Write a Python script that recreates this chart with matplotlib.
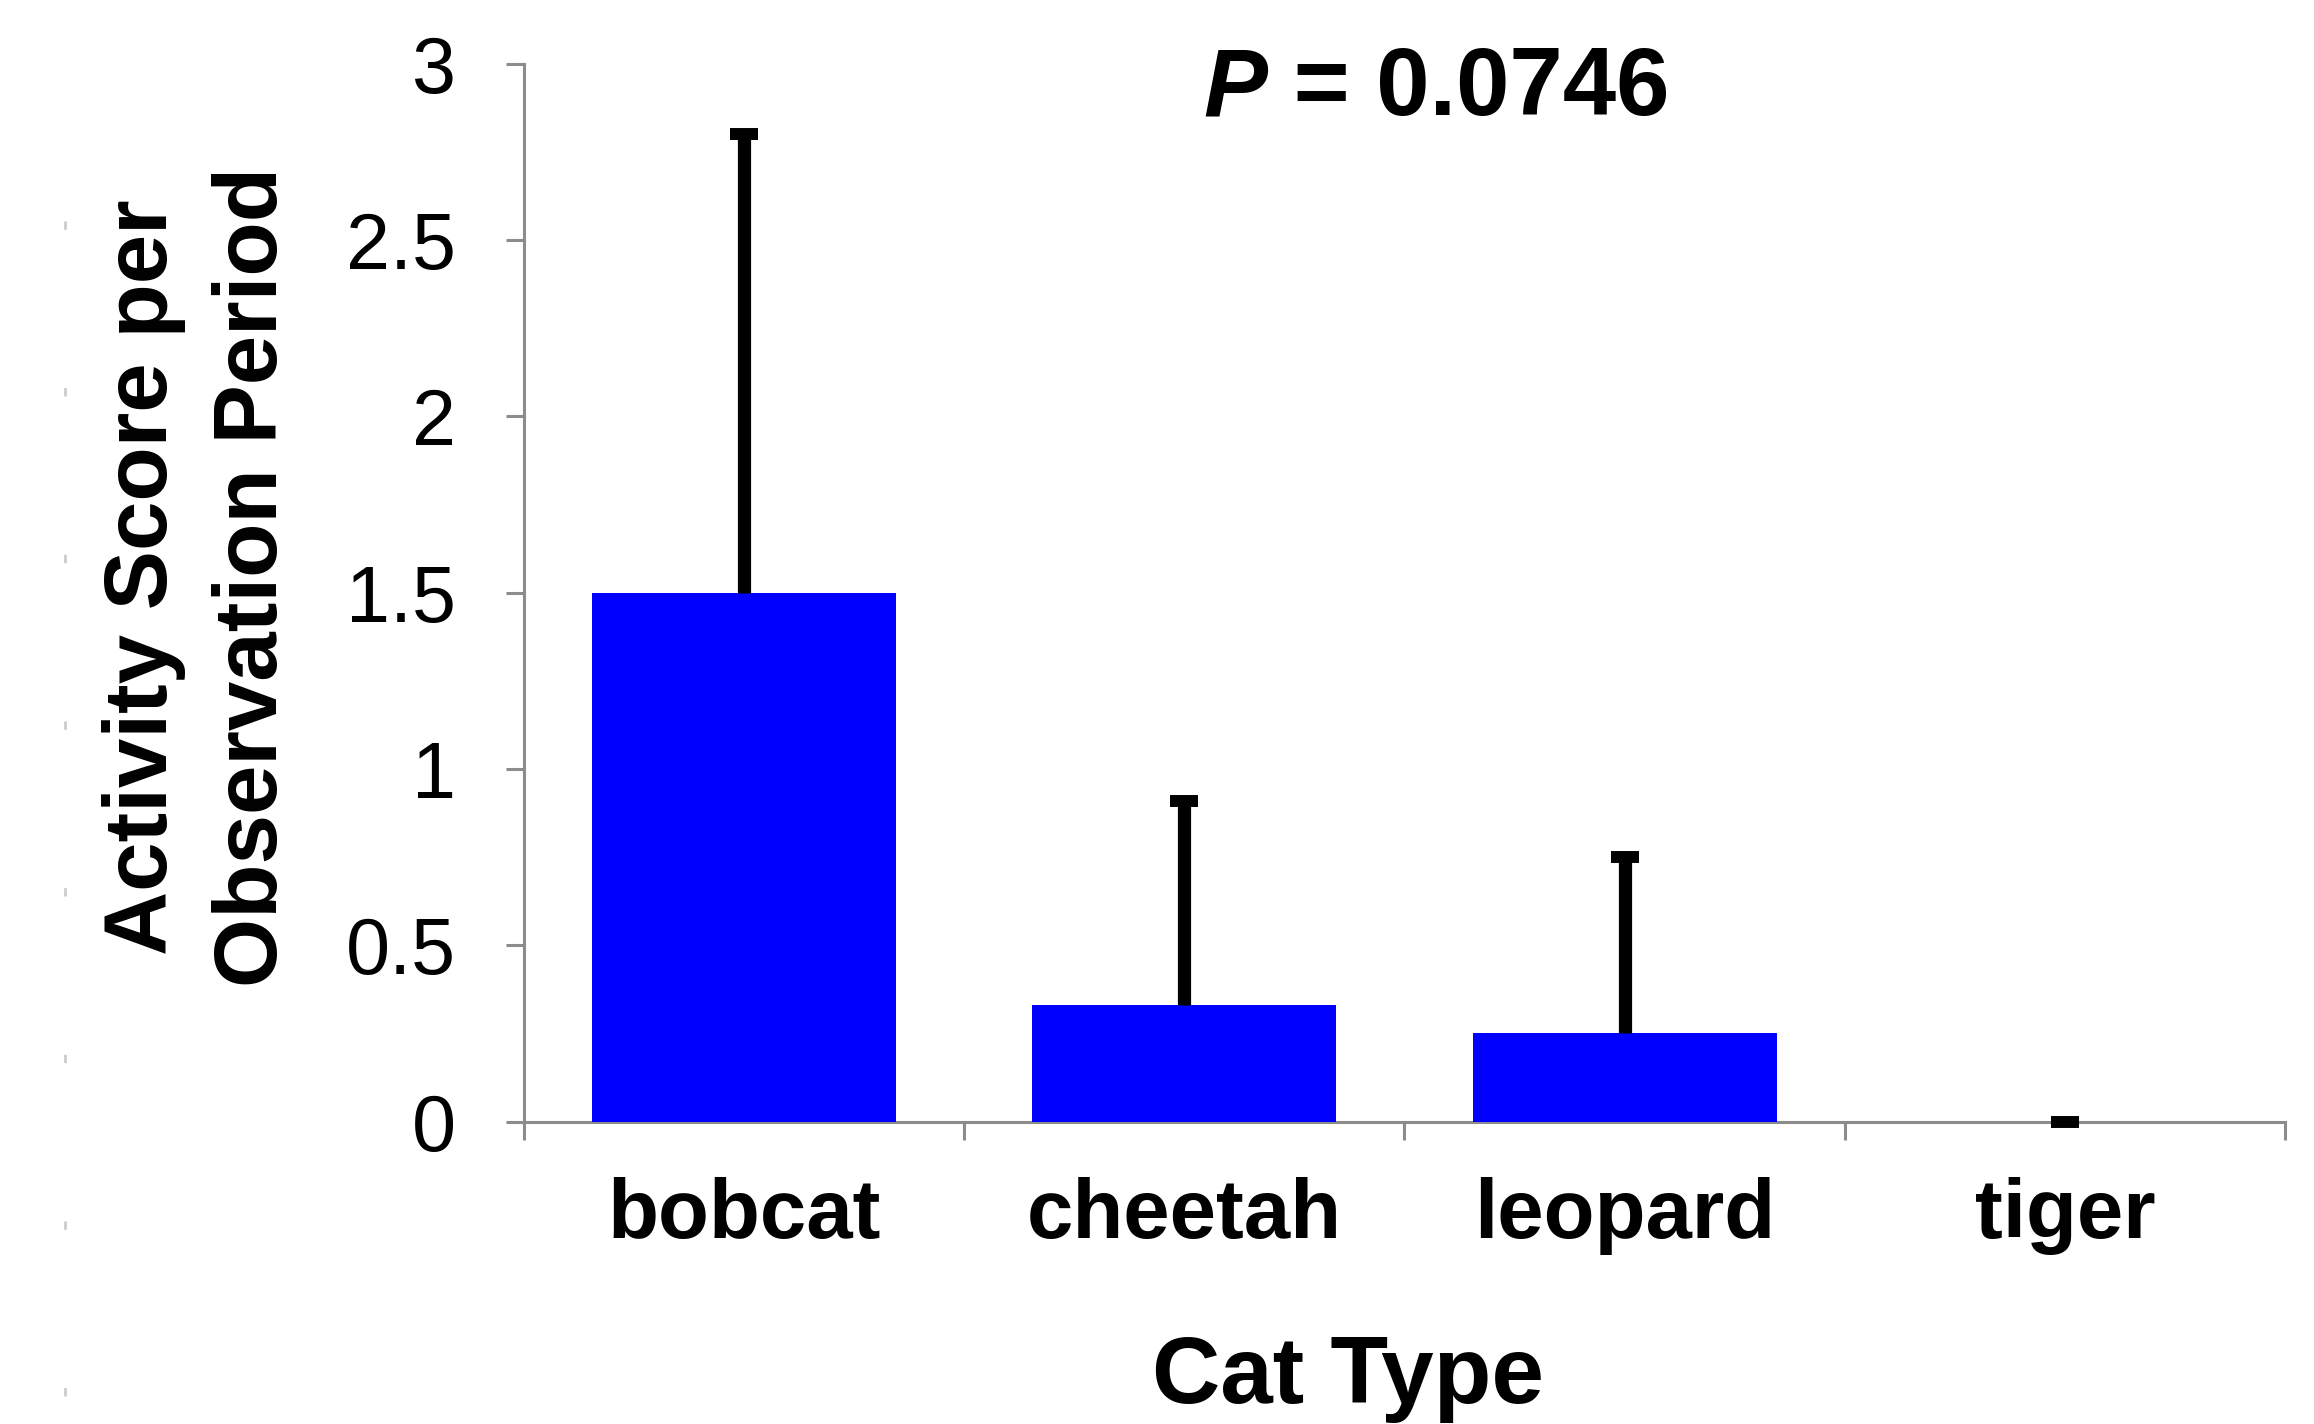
# bar chart of cat activity scores with upper error bars

import matplotlib.pyplot as plt
import numpy as np
from matplotlib.lines import Line2D

plt.rcParams['font.family'] = ['Liberation Sans', 'DejaVu Sans']

cats = ["bobcat", "cheetah", "leopard", "tiger"]
scores = [1.5, 0.33, 0.25, 0.0]
upper_err = [1.30, 0.58, 0.50, 0.0]
yticks = [0, 0.5, 1, 1.5, 2, 2.5, 3]
ytick_labels = ["0", "0.5", "1", "1.5", "2", "2.5", "3"]

axis_grey = "#8c8c8c"

fig = plt.figure(figsize=(23.14, 14.24), dpi=100)
ax = fig.add_axes([0.2264, 0.2124, 0.7611, 0.7430])

x = np.arange(len(cats))
ax.bar(x, scores, width=0.69, color="#0000ff", zorder=2)

# upper-only error bars: stem from bar top, cap at the end
tops = np.array(scores) + np.array(upper_err)
ax.vlines(x, scores, tops, color="black", linewidth=9.5, zorder=3)
ax.plot(x, tops, linestyle="none", marker="_", markersize=19.5,
        markeredgewidth=8.6, color="black", zorder=4, clip_on=False)

ax.set_xlim(-0.5, len(cats) - 0.5)
ax.set_ylim(0, 3)

for s in ["top", "right"]:
    ax.spines[s].set_visible(False)
for s in ["left", "bottom"]:
    ax.spines[s].set_color(axis_grey)
    ax.spines[s].set_linewidth(2.2)
    ax.spines[s].set_zorder(1)

# y axis
ax.set_yticks(yticks)
ax.set_yticklabels(ytick_labels)
ax.tick_params(axis="y", direction="out", length=13, width=2.2, color=axis_grey,
               labelsize=57, pad=36)

# x axis: ticks at category borders, labels at centres
ax.set_xticks(np.arange(len(cats) + 1) - 0.5)
ax.set_xticklabels([])
ax.tick_params(axis="x", which="major", direction="out", length=13, width=2.2,
               color=axis_grey)
ax.set_xticks(x, minor=True)
ax.set_xticklabels(cats, minor=True, fontweight="bold", fontsize=60)
ax.tick_params(axis="x", which="minor", length=0, pad=40)

fig.text(0.086, 0.595, "Activity Score per\nObservation Period", rotation=90,
         ha="center", va="center", multialignment="center",
         fontsize=64, fontweight="bold", linespacing=1.4)
fig.text(0.5825, 0.032, "Cat Type", ha="center", va="center",
         fontsize=68, fontweight="bold")

# P value annotation
p_txt = fig.text(0.52, 0.919, "P", ha="left", va="baseline",
                 fontsize=69, fontweight="bold", fontstyle="italic")
ax.annotate(" = 0.0746", xy=(1, 0), xycoords=p_txt, ha="left", va="bottom",
            fontsize=69, fontweight="bold", annotation_clip=False)

# faint dotted line down the left edge
fig.add_artist(Line2D([0.028, 0.028], [0.02, 0.951], transform=fig.transFigure,
                      color="#cccccc", linewidth=2, linestyle=(0, (3, 57))))

plt.savefig("out.png")
